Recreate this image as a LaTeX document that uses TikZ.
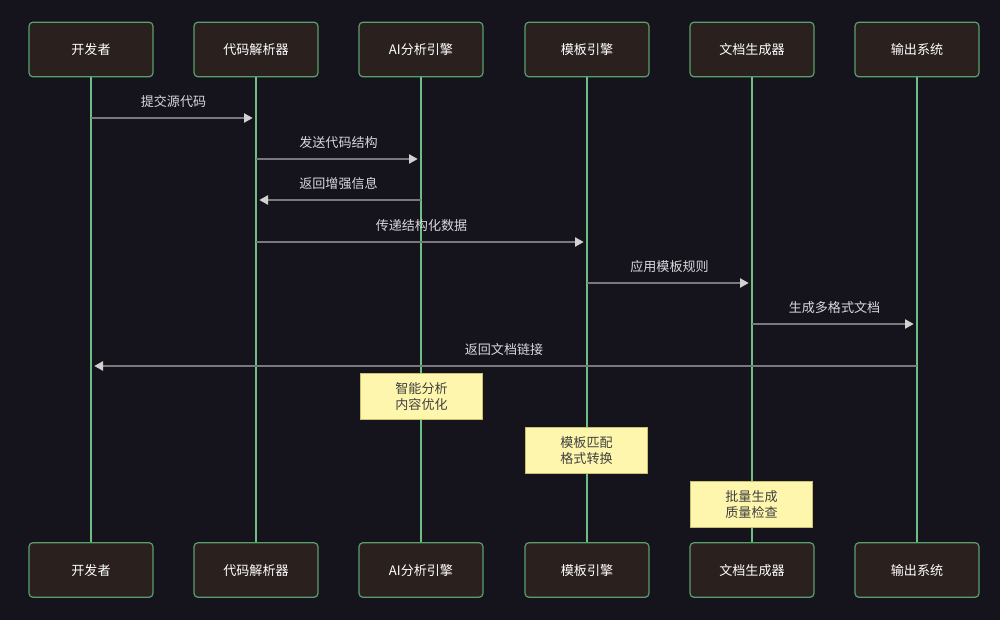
\documentclass[tikz,border=0pt]{standalone}
\usepackage{fontspec}
\setmainfont{Noto Sans CJK SC}
\usetikzlibrary{arrows.meta}

\definecolor{bgdark}{HTML}{15141D}
\definecolor{actorfill}{HTML}{2A211F}
\definecolor{actorline}{HTML}{5A9E6C}
\definecolor{lifegreen}{HTML}{6CC083}
\definecolor{msgline}{HTML}{78787E}
\definecolor{msgtip}{HTML}{D2D2D2}
\definecolor{msgtext}{HTML}{D8D8DC}
\definecolor{notefill}{HTML}{FFF6AD}
\definecolor{noteline}{HTML}{C8C070}

\begin{document}
\begin{tikzpicture}[x=0.75pt,y=-0.75pt,
    actor/.style={draw=actorline, fill=actorfill, line width=0.9pt, rounded corners=3pt,
      minimum width=93pt, minimum height=41pt, text height=8.5pt, text depth=0.5pt,
      text=white, font=\fontsize{9.8}{12}\selectfont},
    life/.style={draw=lifegreen, line width=1.5pt},
    msg/.style={draw=msgline, line width=1pt, shorten >=2.5pt,
      -{Triangle[length=6.5pt,width=7pt,color=msgtip]}},
    lbl/.style={text=msgtext, font=\fontsize{9.8}{12}\selectfont, yshift=12.5pt},
    note/.style={draw=noteline, fill=notefill, line width=0.8pt, minimum width=92pt,
      minimum height=34pt, align=center, text=black!75,
      font=\fontsize{9.8}{12.5}\selectfont}]
  \fill[bgdark] (0,0) rectangle (1000,620);

  % participants, top row
  \node[actor] (devT) at (91,49.5) {开发者};
  \node[actor] (parT) at (256,49.5) {代码解析器};
  \node[actor] (aiT)  at (421,49.5) {AI分析引擎};
  \node[actor] (tplT) at (587,49.5) {模板引擎};
  \node[actor] (docT) at (752,49.5) {文档生成器};
  \node[actor] (outT) at (917,49.5) {输出系统};
  % participants, bottom row
  \node[actor] (devB) at (91,570) {开发者};
  \node[actor] (parB) at (256,570) {代码解析器};
  \node[actor] (aiB)  at (421,570) {AI分析引擎};
  \node[actor] (tplB) at (587,570) {模板引擎};
  \node[actor] (docB) at (752,570) {文档生成器};
  \node[actor] (outB) at (917,570) {输出系统};

  % lifelines
  \draw[life] (devT) -- (devB);
  \draw[life] (parT) -- (parB);
  \draw[life] (aiT) -- (aiB);
  \draw[life] (tplT) -- (tplB);
  \draw[life] (docT) -- (docB);
  \draw[life] (outT) -- (outB);

  % messages
  \draw[msg] (devT |- 0,118) -- node[lbl] {提交源代码} (parT |- 0,118);
  \draw[msg] (parT |- 0,159) -- node[lbl] {发送代码结构} (aiT |- 0,159);
  \draw[msg] (aiT |- 0,200) -- node[lbl] {返回增强信息} (parT |- 0,200);
  \draw[msg] (parT |- 0,242) -- node[lbl] {传递结构化数据} (tplT |- 0,242);
  \draw[msg] (tplT |- 0,283) -- node[lbl] {应用模板规则} (docT |- 0,283);
  \draw[msg] (docT |- 0,324) -- node[lbl] {生成多格式文档} (outT |- 0,324);
  \draw[msg] (outT |- 0,366) -- node[lbl] {返回文档链接} (devT |- 0,366);

  % notes
  \node[note] (aiNote)  at (421.5,396.5) {智能分析\\内容优化};
  \node[note] (tplNote) at (586.5,450.5) {模板匹配\\格式转换};
  \node[note] (docNote) at (751.5,504.5) {批量生成\\质量检查};
\end{tikzpicture}
\end{document}
